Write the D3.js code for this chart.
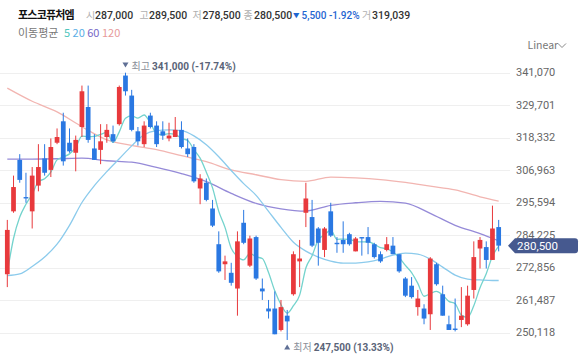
<!DOCTYPE html>
<html><head><meta charset="utf-8">
<script src="https://cdn.jsdelivr.net/npm/d3@7"></script>
<style>
html,body{margin:0;padding:0;background:#fff;}
svg{display:block;font-family:"Noto Sans CJK KR","Noto Sans",sans-serif;}
.num{font-family:Roboto,"Noto Sans",sans-serif;}
</style></head>
<body><svg id="c" width="580" height="356"></svg>
<script>
// ---------- data ----------
const title = "포스코퓨처엠";
const quoteLabels = ["시", "고", "저", "종"];
const quoteValues = ["287,000", "289,500", "278,500", "280,500"];
const changeArrow = "▼";
const changeText = "5,500 -1.92%";
const volumeLabel = "거";
const volumeValue = "319,039";
const maTitle = "이동평균";
const maPeriods = ["5", "20", "60", "120"];
const scaleLabel = "Linear";
const yTicks = [250118, 261487, 272856, 284225, 295594, 306963, 318332, 329701, 341070];
const lastPrice = 280500;
const highIndex = 19, highText = ["최고", "341,000", "(-17.74%)"];
const lowIndex = 45, lowText = ["최저", "247,500", "(13.33%)"];

const open = [270500,292500,310500,297500,292500,301500,311000,307000,316500,324000,
  316500,313000,322000,329000,314500,314000,318500,319500,323000,340000,
  333000,320500,316000,326000,322500,320500,318000,318500,321000,314500,
  315000,300500,302500,293500,281000,274000,271000,265500,288500,273500,
  283500,265500,258500,258500,251000,256000,263500,275000,292000,290500,
  286500,279000,292500,281500,282500,284500,278500,283500,283500,281000,
  277500,279000,280500,277500,269000,266500,259000,258500,256500,274000,
  263500,253000,251500,254500,253000,265000,279500,280000,275500,287000];
const high = [289500,305000,312500,306000,308000,316000,316000,318000,321500,327000,
  321500,319000,336500,336500,319500,323000,323000,322500,336500,341000,
  335000,322000,324000,327000,324000,324000,323500,325500,324000,318000,
  316000,305500,304000,296500,285500,277000,274500,285500,293000,284000,
  284000,269000,261500,264500,261500,258000,278500,282500,302500,296500,
  287000,287000,295500,283500,289000,285000,283500,283500,287000,281500,
  278500,283500,283500,277500,269500,269500,265000,260000,276500,274500,
  266500,256000,262000,266000,266500,282000,283500,282000,294500,289500];
const low = [266000,292000,302500,295500,286500,299500,305000,304500,316000,308500,
  313000,306500,318500,316500,310500,309000,316500,316500,322500,333000,
  320500,315500,315000,321500,315000,317500,317000,318500,314500,311500,
  302500,295000,296000,287000,271000,268500,266500,256000,281000,273000,
  268500,261500,255000,249500,250500,247500,263000,266000,287000,280000,
  273500,276500,283500,278000,278000,280500,278500,277000,277500,276000,
  274500,278500,277500,271000,262500,262000,256000,253000,251000,266500,
  256000,251000,250500,252000,252500,262000,272500,272500,275500,278500];
const close = [286000,301000,303500,297000,305000,308000,306000,315000,318500,310000,
  313500,317500,334500,317500,310500,317000,321000,317000,336000,334500,
  321000,317000,322500,322000,316000,319000,319000,321000,315000,312500,
  303000,304000,296500,287500,271500,275000,267500,282000,281500,283000,
  269000,264500,257500,249500,259000,254000,277500,276000,297000,280500,
  281500,286500,284000,281000,281000,281000,283000,283000,281500,276500,
  275000,281000,277500,271500,263000,262500,262000,255000,276000,267000,
  256000,251000,251000,256000,263000,276500,282500,275500,286500,280500];

// moving averages
const ma5 = [271000,283000,290500,295000,298500,302900,303900,306200,310500,311500,
  312600,314900,318800,318600,318700,319400,320100,316600,320300,325100,
  325900,325100,326200,323400,319700,319300,319700,319400,318000,317300,
  314100,311100,306200,300700,292500,286900,279600,276700,275500,277800,
  276600,276000,271100,264700,259900,256900,259500,263200,272700,277000,
  282500,284300,285900,282700,282800,282700,282000,281800,281900,281000,
  279800,279400,278300,276300,273600,271100,267300,262800,263700,264500,
  263200,261000,260200,256200,255400,259500,265800,270700,276800,280300];
const ma20Idx = [0,2,4,6,8,10,12,14,16,18,20,22,24,26,28,30,32,34,36,38,40,
  42,44,46,48,50,52,54,56,58,60,62,64,66,68,70,72,74,76,78,79];
const ma20 = [270000,270600,273200,276500,281000,287600,295600,301500,306400,310900,
  315400,319300,320700,321000,320700,318900,315800,311600,306800,302200,298100,
  292500,286900,281700,278600,276500,275100,274400,274400,274800,275800,
  277200,277900,277500,275800,273000,270200,268800,268500,268300,268300];
const maLongIdx = [0,4,8,12,16,20,24,28,32,36,40,44,48,52,56,60,64,68,72,76,79];
const ma60 = [310800,310800,310900,311100,310200,309700,307900,305700,302900,298800,
  295300,293400,292600,294600,295500,296000,295400,291800,287600,284700,282200];
const ma120 = [335600,331000,327300,322100,317500,315600,314100,312000,309900,307000,
  305300,303600,303000,304500,304200,303600,302600,301300,300000,297600,296100];

// ---------- styles ----------
const UP = "#e8393c", DOWN = "#2a78e2";
const maColors = ["#74d3cd", "#8ccbec", "#958ad8", "#f2b5b1"];
const maLegendColors = ["#4fc6bd", "#5aaee6", "#7566c6", "#e79a9a"];

const svg = d3.select("#c");
svg.append("rect").attr("width", 580).attr("height", 356).attr("fill", "#fff");

const idx = d3.range(open.length);
const x = d3.scaleBand().domain(idx).range([4.19, 501.79]).paddingInner(0.24).paddingOuter(0.12);
const xc = i => x(i) + x.bandwidth() / 2;
const y = d3.scaleLinear().domain([250118, 341070]).range([332.5, 72.5]);

// grid
svg.append("g").selectAll("line").data(yTicks).join("line")
  .attr("x1", 0).attr("x2", 510)
  .attr("y1", d => Math.round(y(d)) + 0.5).attr("y2", d => Math.round(y(d)) + 0.5)
  .attr("stroke", "#efefef").attr("stroke-width", 1);

// right axis labels
const fmt = d3.format(",");
svg.append("g").selectAll("text").data(yTicks).join("text")
  .attr("class", "num")
  .attr("x", 516).attr("y", d => y(d) + 3.8)
  .attr("font-size", 11).attr("fill", "#666").text(d => fmt(d));

// moving-average lines
const line = d3.line().x(d => xc(d.i)).y(d => y(d.v)).curve(d3.curveMonotoneX);
const maSets = [
  idx.map(i => ({i, v: ma5[i]})),
  ma20Idx.map((i, k) => ({i, v: ma20[k]})),
  maLongIdx.map((i, k) => ({i, v: ma60[k]})),
  maLongIdx.map((i, k) => ({i, v: ma120[k]}))
];
[3, 2, 1, 0].forEach(k => {
  svg.append("path").attr("d", line(maSets[k])).attr("fill", "none")
    .attr("stroke", maColors[k]).attr("stroke-width", 1.3);
});

// candles
const cg = svg.append("g").selectAll("g").data(idx).join("g")
  .attr("fill", i => close[i] >= open[i] ? UP : DOWN)
  .attr("stroke", i => close[i] >= open[i] ? UP : DOWN);
cg.append("line")
  .attr("x1", i => xc(i)).attr("x2", i => xc(i))
  .attr("y1", i => y(high[i])).attr("y2", i => y(low[i]))
  .attr("stroke-width", 1);
cg.append("rect")
  .attr("x", i => x(i)).attr("width", x.bandwidth())
  .attr("y", i => y(Math.max(open[i], close[i])))
  .attr("height", i => Math.max(1.2, Math.abs(y(open[i]) - y(close[i]))))
  .attr("stroke", "none");

// high / low annotations
function annot(i, txt, baseY, up) {
  const g = svg.append("g");
  const cx = xc(i);
  const tri = up ? `M${cx-3},${baseY-1} L${cx+3},${baseY-1} L${cx},${baseY-6} Z`
                 : `M${cx-3},${baseY-7} L${cx+3},${baseY-7} L${cx},${baseY-2} Z`;
  g.append("path").attr("d", tri).attr("fill", "#5f6f95");
  const t = g.append("text").attr("x", cx + 6).attr("y", baseY).attr("font-size", 10);
  t.append("tspan").attr("fill", "#8a8f99").text(txt[0] + " ");
  t.append("tspan").attr("class", "num").attr("fill", "#5a6478").attr("font-weight", 700).text(txt[1] + " ");
  t.append("tspan").attr("class", "num").attr("fill", "#5a6478").attr("font-weight", 700).text(txt[2]);
}
annot(highIndex, highText, 69.5, false);
annot(lowIndex, lowText, 350.5, true);

// last price tag
const py = y(lastPrice);
svg.append("path")
  .attr("d", `M508,${py} L515,${py-7.5} L575,${py-7.5} Q578,${py-7.5} 578,${py-4.5} L578,${py+4.5} Q578,${py+7.5} 575,${py+7.5} L515,${py+7.5} Z`)
  .attr("fill", "#46598f");
svg.append("text").attr("class", "num").attr("x", 517).attr("y", py + 4.2).attr("font-size", 11.5)
  .attr("fill", "#fff").text(fmt(lastPrice));

// header
const hy = 19;
svg.append("text").attr("x", 18).attr("y", hy).attr("font-size", 11).attr("font-weight", 700)
  .attr("letter-spacing", -0.8).attr("fill", "#111").text(title);
const labX = [86, 139.5, 192.5, 243.5], valX = [95, 149, 202.5, 254];
quoteLabels.forEach((l, k) => {
  svg.append("text").attr("x", labX[k]).attr("y", hy).attr("font-size", 10).attr("fill", "#b0b0b0").text(l);
  svg.append("text").attr("class", "num").attr("x", valX[k]).attr("y", hy).attr("font-size", 10.5).attr("font-weight", 500)
    .attr("fill", "#333").text(quoteValues[k]);
});
svg.append("text").attr("x", 293).attr("y", hy - 1).attr("font-size", 6.5).attr("fill", "#1f66d1").text(changeArrow);
svg.append("text").attr("class", "num").attr("x", 301.5).attr("y", hy).attr("font-size", 10).attr("font-weight", 500)
  .attr("fill", "#1f66d1").text(changeText);
svg.append("text").attr("x", 362).attr("y", hy).attr("font-size", 10).attr("fill", "#b0b0b0").text(volumeLabel);
svg.append("text").attr("class", "num").attr("x", 372).attr("y", hy).attr("font-size", 10.5).attr("font-weight", 500)
  .attr("fill", "#333").text(volumeValue);

// MA legend
const ly = 37;
svg.append("text").attr("x", 18).attr("y", ly).attr("font-size", 11).attr("fill", "#777").text(maTitle);
const lt = svg.append("text").attr("x", 64).attr("y", ly).attr("font-size", 11);
maPeriods.forEach((p, k) => lt.append("tspan").attr("fill", maLegendColors[k]).text((k ? " " : "") + p));

// scale selector
svg.append("text").attr("x", 527.5).attr("y", 49).attr("font-size", 10.5).attr("fill", "#777").text(scaleLabel);
svg.append("path").attr("d", "M558,43.5 L562,47.5 L566,43.5").attr("fill", "none")
  .attr("stroke", "#888").attr("stroke-width", 1);
</script>
</body></html>
